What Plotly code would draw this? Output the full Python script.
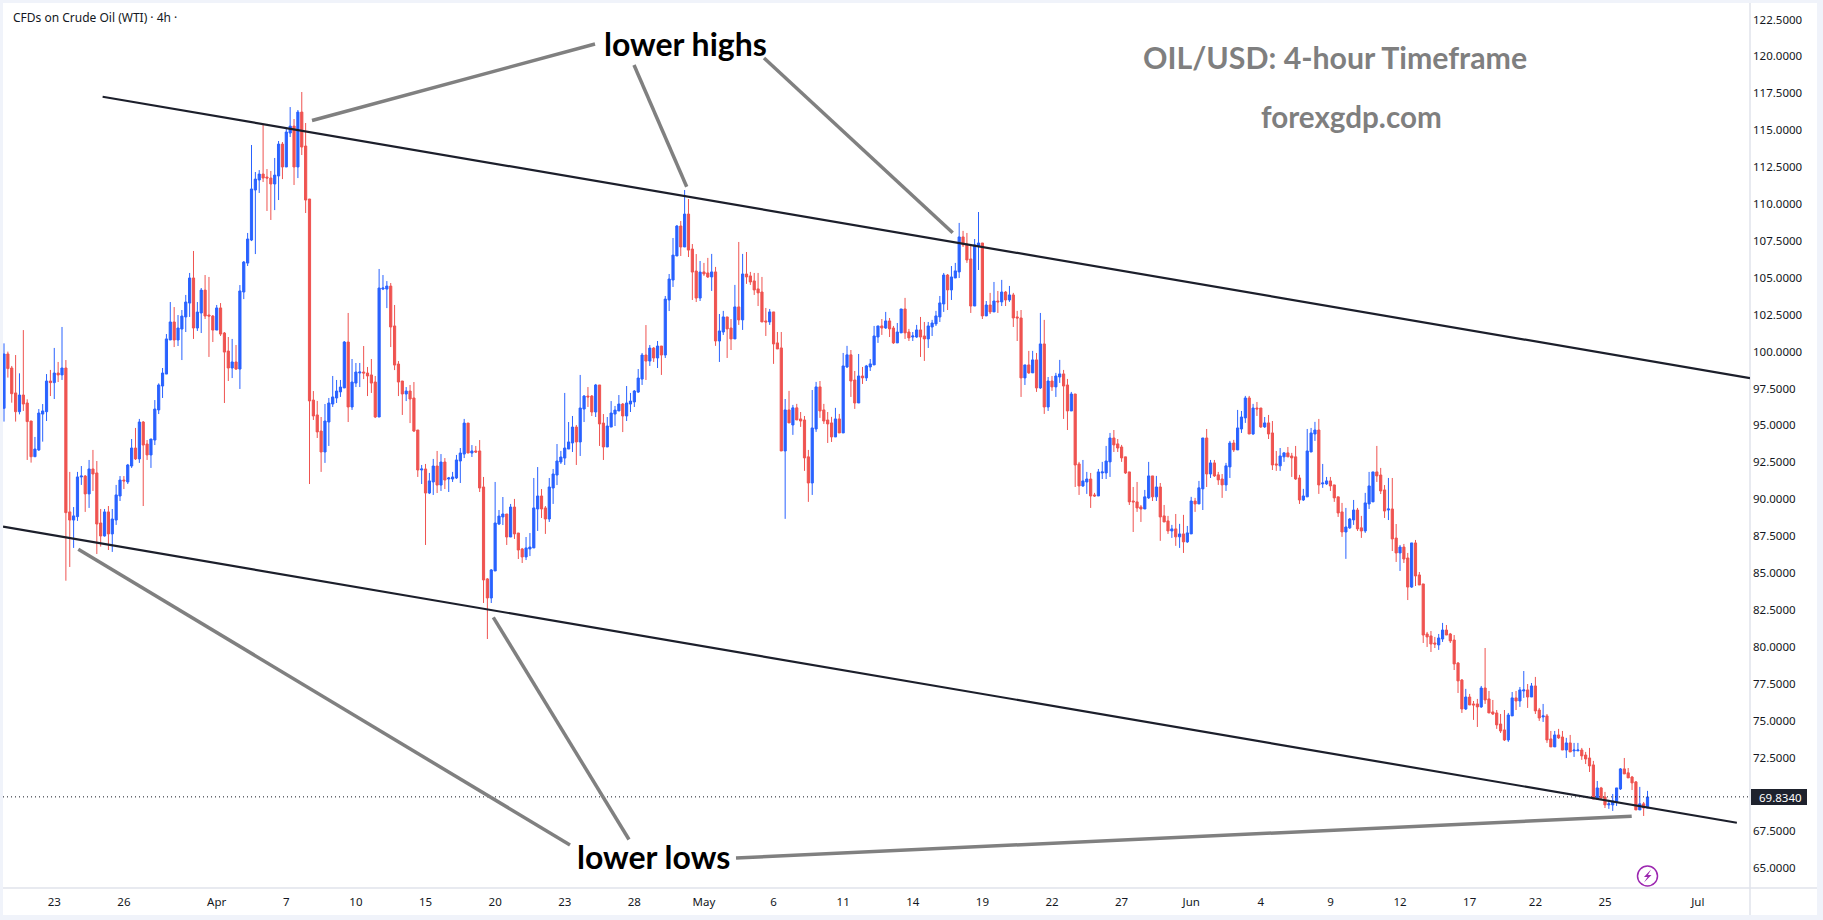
import plotly.graph_objects as go

# 4-hour WTI crude candles, oldest first
opens = [
96.16,99.84,98.89,97.20,95.93,97.06,96.52,95.30,92.88,93.34,
95.77,95.93,98.01,97.90,98.55,98.42,98.89,89.14,88.59,88.82,
91.51,91.57,90.36,92.05,91.78,88.39,87.51,89.14,87.65,88.59,
90.22,91.30,91.17,92.25,93.47,92.73,95.23,93.74,93.00,94.01,
96.05,97.67,98.48,100.79,102.01,100.79,101.53,102.35,103.29,104.99,
101.60,102.62,104.17,102.48,102.41,101.46,102.96,101.26,100.04,98.89,
99.30,98.82,104.04,106.00,107.56,110.95,111.63,112.03,111.83,111.76,
111.36,111.90,114.06,112.51,114.81,115.28,112.51,116.23,113.93,110.34,
96.72,95.71,94.62,93.20,95.23,96.45,96.86,97.27,97.54,100.65,
96.25,97.87,98.55,98.62,98.55,98.42,97.94,95.57,104.24,104.24,
104.44,101.74,99.16,98.01,97.13,97.33,96.86,94.69,91.98,92.05,
90.42,91.17,92.25,90.96,92.52,91.37,91.37,91.44,92.59,93.06,
95.16,93.13,93.27,93.27,90.83,84.60,83.31,85.14,88.32,88.80,
89.00,87.44,89.47,87.71,86.63,86.09,86.63,86.70,89.34,90.22,
89.41,88.66,90.76,91.64,92.52,92.79,93.40,93.81,94.89,93.88,
96.11,96.99,96.99,95.91,97.74,95.16,93.54,94.89,95.77,95.98,
96.45,95.64,96.45,96.59,97.26,98.14,99.77,99.36,100.24,99.57,
100.38,99.77,103.50,104.85,106.48,108.51,107.09,109.32,106.95,105.46,
103.63,105.40,105.33,105.06,105.40,100.72,101.33,102.35,101.60,100.86,
103.03,102.15,105.26,105.13,104.79,104.25,104.04,102.08,102.01,102.69,
100.59,100.25,93.27,96.05,95.03,96.19,95.44,95.37,92.87,91.10,
94.76,97.61,96.05,95.37,95.17,94.22,95.44,94.49,98.96,99.78,
98.08,96.52,98.35,98.22,98.96,99.10,100.99,101.74,101.60,102.08,
101.60,100.59,101.27,102.89,101.33,100.99,100.99,101.47,101.06,100.86,
101.67,101.88,102.35,103.23,105.19,104.18,104.99,105.40,107.77,107.29,
106.28,103.09,107.16,107.36,102.42,103.16,102.69,103.43,103.37,104.04,
103.50,103.84,102.35,102.28,98.22,99.10,98.56,99.44,97.54,100.52,
96.25,98.01,97.61,98.28,98.49,97.74,95.98,97.13,92.39,90.90,
91.17,91.37,90.29,90.22,91.78,91.78,92.53,94.15,93.75,93.54,
92.87,91.85,89.88,89.82,89.48,89.34,90.09,91.58,90.16,90.83,
88.87,88.53,87.85,87.99,87.45,87.65,87.11,87.65,89.88,89.68,
90.70,94.15,91.71,92.46,91.65,91.37,90.97,92.19,93.81,93.34,
94.76,95.51,96.86,94.42,96.18,96.18,94.90,95.17,94.49,92.39,
92.26,92.87,93.14,92.93,92.87,91.44,89.95,90.16,93.20,94.42,
94.69,91.04,91.04,91.24,90.97,90.16,89.14,87.78,88.06,88.60,
89.27,88.06,87.85,89.68,89.82,91.85,91.64,90.63,89.27,89.34,
87.37,86.36,86.76,86.02,84.05,87.04,84.87,84.26,80.87,80.74,
80.26,80.13,80.53,81.14,80.87,80.46,78.90,77.75,75.79,76.60,
76.13,76.13,75.93,77.21,76.47,75.59,75.52,74.77,74.37,73.69,
75.32,76.54,76.33,77.01,77.08,76.60,77.35,75.72,75.25,75.32,
73.76,73.22,74.03,73.89,73.01,73.49,72.95,72.95,73.01,72.67,
72.47,72.00,69.69,70.44,69.83,69.29,69.29,69.49,70.37,71.73,
71.46,71.18,70.85,68.95,69.36,69.08]
highs = [
100.56,100.00,99.03,99.77,98.53,101.46,96.77,95.30,94.22,96.11,
96.45,98.48,98.76,100.25,99.30,101.67,99.43,91.85,89.47,91.85,
92.25,91.64,92.66,93.34,92.59,89.34,89.34,89.54,89.34,90.97,
91.57,91.57,92.39,94.08,94.83,95.44,95.30,94.01,94.08,96.72,
97.85,98.89,101.19,103.36,103.02,102.48,102.82,103.84,105.33,106.82,
103.36,104.31,105.19,105.06,102.48,103.16,103.29,101.33,100.99,100.86,
100.45,104.51,106.14,108.04,114.00,112.17,112.30,115.42,112.37,112.24,
113.12,114.27,114.20,115.15,116.57,115.76,116.37,117.59,115.49,110.34,
97.33,96.66,95.57,96.45,96.86,98.35,98.08,98.08,100.72,102.62,
99.50,99.23,99.23,100.38,98.96,99.50,98.35,105.60,105.19,104.78,
104.65,103.16,99.36,98.01,97.60,97.74,97.94,94.69,92.32,92.39,
91.78,92.73,93.27,93.06,92.79,91.51,91.85,93.00,93.47,95.44,
95.16,93.67,93.61,94.01,91.51,84.66,85.27,91.17,89.27,90.15,
89.00,89.68,90.02,87.71,86.70,87.44,87.71,91.44,92.18,90.69,
89.54,91.44,92.05,93.74,93.27,97.20,95.23,95.64,95.03,98.42,
97.06,97.60,97.06,97.81,97.74,95.77,95.57,96.65,96.32,97.06,
96.52,97.67,97.20,97.40,98.82,99.91,101.80,100.45,100.31,100.72,
100.38,103.77,105.26,107.70,108.58,108.85,110.95,110.34,107.29,106.61,
106.14,106.01,106.35,106.62,105.74,102.55,102.76,102.35,102.21,104.52,
107.43,106.62,106.75,105.40,105.33,105.33,105.06,102.96,102.89,102.69,
101.33,101.33,96.79,97.34,96.39,96.46,95.91,95.64,93.34,97.40,
97.95,98.01,96.46,95.91,95.58,96.19,95.78,99.91,100.39,100.11,
98.69,99.84,98.96,99.10,99.50,101.74,101.74,102.21,102.69,102.28,
101.74,101.94,102.89,103.64,101.54,101.33,101.81,102.35,102.01,102.01,
102.15,102.76,103.77,105.33,105.26,105.80,106.01,108.72,108.18,108.04,
107.29,107.63,109.46,107.36,103.43,103.98,104.72,104.11,104.86,104.11,
104.45,103.98,102.76,102.82,99.10,100.05,100.05,99.91,102.62,102.15,
98.28,98.35,98.56,99.44,98.76,98.15,97.27,97.13,92.53,92.66,
91.85,91.78,90.43,92.05,92.53,93.61,94.49,94.69,94.08,93.68,
92.87,91.85,90.83,91.17,89.61,90.63,92.53,91.58,91.58,91.10,
89.61,88.87,88.26,89.00,88.33,88.94,88.19,90.16,90.09,91.24,
94.15,94.76,92.66,92.66,91.85,91.71,92.46,93.95,94.02,96.05,
95.98,97.00,97.00,96.46,96.59,96.18,95.57,95.71,95.30,93.27,
93.47,93.20,93.54,93.14,93.61,91.65,90.70,94.76,94.83,95.24,
95.44,92.39,91.51,91.51,90.97,90.16,89.75,89.41,88.73,89.95,
89.41,88.87,90.43,91.85,91.85,93.61,92.12,90.96,91.44,91.44,
88.32,86.90,86.97,86.36,87.04,87.24,85.07,84.26,81.01,81.07,
80.67,80.87,81.62,81.48,80.94,80.80,78.97,77.82,77.15,76.81,
76.33,76.47,77.35,79.92,77.01,76.40,75.72,75.45,75.72,75.52,
76.94,77.01,77.28,78.36,77.48,77.55,77.96,75.86,76.13,75.45,
74.30,74.30,74.44,74.30,73.83,74.03,73.49,73.49,73.15,72.88,
73.15,72.27,70.91,70.51,70.17,69.63,70.03,70.44,71.79,72.47,
71.79,71.25,70.91,70.51,69.49,70.24]
lows = [
95.26,98.24,96.54,95.26,95.75,95.98,92.66,92.48,92.88,93.27,
93.90,95.30,96.99,96.79,97.94,98.08,84.48,85.41,86.70,88.53,
90.97,89.14,89.41,90.56,86.29,86.79,87.47,86.56,86.43,88.26,
89.88,90.69,91.03,92.12,92.66,92.46,89.54,92.66,92.12,93.67,
95.77,96.86,98.48,100.79,100.31,100.38,99.43,101.33,102.35,100.86,
101.40,101.26,102.21,99.64,100.65,101.46,101.06,96.52,98.01,98.21,
98.76,97.47,103.56,105.80,107.49,106.61,110.75,111.49,109.53,108.92,
109.59,110.27,111.69,112.51,114.54,111.29,111.76,113.32,109.39,91.03,
95.37,94.15,91.85,92.46,93.61,96.25,96.52,96.93,97.54,95.23,
96.05,97.60,97.60,98.14,96.99,97.20,95.50,95.57,104.17,102.95,
100.31,98.75,96.99,95.71,96.65,95.16,94.55,91.51,91.03,86.90,
90.35,90.29,90.42,90.56,90.69,90.49,91.17,91.37,91.10,92.79,
93.13,92.86,93.13,90.49,82.97,80.53,82.97,85.14,88.25,88.25,
86.90,87.44,87.31,85.95,85.68,85.88,86.15,86.70,87.85,88.73,
87.65,88.46,89.68,90.96,92.39,92.32,93.40,93.20,92.32,92.93,
95.23,96.25,95.64,95.57,93.61,92.66,93.54,94.89,94.96,95.98,
94.55,95.30,95.91,96.25,97.20,97.74,98.08,99.03,99.30,98.89,
98.42,99.57,102.75,104.38,106.48,106.48,107.09,106.41,103.50,103.36,
103.43,105.13,104.99,104.11,100.39,99.30,101.13,99.57,100.11,100.86,
101.81,101.47,104.59,104.52,103.84,103.09,102.01,101.06,101.81,99.17,
100.18,93.27,88.67,95.17,94.36,95.37,94.90,91.92,89.82,90.29,
94.56,95.51,95.10,93.81,93.88,94.22,94.49,94.49,98.89,96.93,
96.12,96.52,97.81,98.01,98.69,99.10,100.59,101.13,101.54,100.99,
100.52,100.59,101.27,100.86,100.72,100.72,100.93,99.64,99.37,100.25,
101.06,101.74,102.01,102.69,102.82,103.50,104.99,104.99,107.09,106.01,
102.62,103.09,105.53,102.21,102.42,102.55,102.69,102.62,103.09,103.09,
103.37,101.67,100.72,96.93,97.74,98.49,98.56,97.27,97.47,95.78,
95.98,97.34,96.93,97.88,95.44,94.69,95.98,90.83,90.29,90.83,
90.36,89.41,90.16,90.22,91.37,91.37,91.51,93.20,93.20,92.53,
91.71,89.61,87.78,89.14,88.46,89.34,90.02,89.88,89.88,87.18,
88.46,87.65,87.38,86.84,86.70,86.36,87.04,87.65,89.14,89.68,
89.27,90.83,91.44,91.51,90.97,90.09,90.56,91.44,93.20,93.34,
94.49,95.17,94.42,94.36,95.64,94.83,94.83,94.08,91.98,91.92,
91.92,92.53,92.87,91.51,91.31,89.68,89.88,90.16,93.20,93.95,
90.36,90.77,90.97,90.56,89.82,88.80,87.45,85.96,87.99,88.26,
87.85,87.38,87.72,89.34,89.82,91.17,90.35,88.73,88.59,86.49,
85.75,85.14,85.68,83.17,83.99,84.12,84.19,80.26,79.99,79.65,
79.92,79.79,80.33,80.80,80.26,78.43,76.87,75.52,75.72,76.06,
75.05,74.57,75.86,76.13,75.52,75.38,74.44,74.16,73.62,73.56,
75.32,75.72,75.93,76.54,75.86,76.60,75.45,74.98,74.91,73.49,
73.22,73.22,73.76,73.01,72.47,72.88,72.54,72.95,72.34,72.06,
71.52,69.69,69.63,69.63,69.08,69.02,68.88,69.22,70.30,71.39,
71.12,70.30,68.95,68.95,68.54,69.08]
closes = [
99.84,98.85,97.15,95.93,97.06,96.45,95.26,92.88,93.40,95.84,
95.98,98.01,97.90,98.55,98.42,98.89,89.09,88.59,88.87,91.51,
91.57,90.36,92.05,91.71,88.32,87.51,89.14,87.65,88.66,90.29,
91.30,91.24,92.32,93.47,92.73,95.23,93.67,93.00,94.08,96.11,
97.74,98.55,100.86,102.01,100.79,101.60,102.41,103.36,104.99,101.60,
102.68,104.17,102.41,102.41,101.46,102.96,101.19,99.97,98.89,99.30,
98.82,104.11,106.07,107.63,111.02,111.69,112.03,111.76,111.76,111.36,
111.96,114.06,112.51,114.88,115.28,112.51,116.23,113.86,110.27,96.66,
95.64,94.56,93.20,95.30,96.52,96.93,97.33,97.60,100.65,96.25,
97.94,98.62,98.62,98.55,98.35,97.87,95.57,104.31,104.31,104.44,
101.67,99.09,97.94,97.13,97.33,96.79,94.62,91.98,92.05,90.42,
91.24,92.25,90.96,92.52,91.30,91.44,91.51,92.66,93.13,95.16,
93.13,93.27,93.20,90.76,84.53,83.31,85.21,88.39,88.86,89.00,
87.44,89.47,87.65,86.56,86.09,86.70,86.76,89.41,90.22,89.34,
88.66,90.83,91.71,92.59,92.86,93.47,93.88,94.89,93.88,96.18,
96.99,96.93,95.91,97.74,95.10,93.54,94.96,95.84,96.04,96.45,
95.64,96.52,96.65,97.33,98.21,99.77,99.36,100.24,99.57,100.38,
99.77,103.56,104.92,106.54,108.51,107.09,109.32,106.88,105.39,103.63,
105.39,105.26,105.06,105.40,100.72,101.40,102.35,101.54,100.86,103.03,
102.15,105.26,105.06,104.72,104.18,103.98,102.01,102.01,102.69,100.52,
100.18,93.27,96.05,95.17,96.19,95.37,95.30,92.80,91.10,94.83,
97.61,95.98,95.30,95.10,94.22,95.44,94.49,99.03,99.78,98.01,
96.52,98.35,98.22,99.03,99.17,101.06,101.74,101.60,102.08,101.54,
100.59,101.33,102.89,101.27,100.93,101.06,101.47,100.99,100.86,101.74,
101.94,102.42,103.30,105.19,104.18,105.06,105.47,107.77,107.23,106.21,
103.09,107.23,107.36,102.42,103.16,102.69,103.43,103.37,104.04,103.50,
103.84,102.28,102.28,98.22,99.10,98.56,99.44,97.54,100.52,96.25,
98.01,97.61,98.35,98.49,97.67,95.98,97.13,92.32,90.90,91.24,
91.37,90.22,90.22,91.85,91.85,92.59,94.15,93.68,93.47,92.80,
91.78,89.82,89.82,89.41,89.34,90.16,91.58,90.16,90.83,88.80,
88.46,87.85,87.99,87.45,87.65,87.11,87.72,89.88,89.68,90.77,
94.15,91.71,92.46,91.58,91.31,90.97,92.26,93.81,93.34,94.83,
95.57,96.86,94.42,96.18,96.12,94.90,95.17,94.42,92.32,92.32,
92.93,93.14,92.87,92.80,91.37,89.95,90.22,93.27,94.49,94.69,
90.97,91.10,91.24,90.90,90.09,89.07,87.78,88.12,88.66,89.27,
87.99,87.85,89.75,90.90,91.85,91.58,90.56,89.20,89.34,87.31,
86.36,86.76,85.95,84.05,87.04,84.80,84.19,80.80,80.67,80.19,
80.19,80.60,81.14,80.80,80.40,78.84,77.69,75.79,76.60,76.06,
76.06,75.93,77.21,76.40,75.52,75.45,74.71,74.30,73.69,75.38,
76.54,76.33,77.08,77.08,76.60,77.35,75.66,75.18,75.32,73.69,
73.22,74.03,73.83,73.01,73.49,72.88,73.01,73.01,72.61,72.40,
71.93,69.69,70.44,69.76,69.29,69.36,69.56,70.44,71.73,71.39,
71.12,70.78,68.95,69.36,69.08,69.83]

# Date labels along the time axis, at their bar positions
date_bars = [13,31,55,73,91,109,127,145,163,181,199,217,235,253,271,289,307,325,343,361,379,396,414,438]
date_labels = ["23","26","Apr","7","10","15","20","23","28","May","6","11","14","19","22","27","Jun","4","9","12","17","22","25","Jul"]

# The 70 level gives way to the last-price tag
price_ticks = [65.0, 67.5, 72.5, 75.0, 77.5, 80.0, 82.5, 85.0, 87.5, 90.0, 92.5, 95.0,
               97.5, 100.0, 102.5, 105.0, 107.5, 110.0, 112.5, 115.0, 117.5, 120.0, 122.5]
last_price = 69.834

# Channel boundaries drawn on the chart: (bar, price) end points
upper_channel = [(25.5, 117.27), (451.5, 98.21)]
lower_channel = [(-0.26, 88.14), (448.1, 68.08)]

n = min(len(opens), len(highs), len(lows), len(closes))
bars = list(range(n))

PLOT_L, PLOT_T, PLOT_R, PLOT_B = 3, 3, 1750, 888
FRAME_R, FRAME_B = 1817, 915
GREY = "#7f7f7f"
FONT = "Noto Sans"
HEAD = "Lato"


def fx(px):
    return (px - PLOT_L) / (PLOT_R - PLOT_L)


def fy(py):
    return (PLOT_B - py) / (PLOT_B - PLOT_T)


fig = go.Figure(go.Candlestick(
    x=bars, open=opens[:n], high=highs[:n], low=lows[:n], close=closes[:n],
    increasing=dict(line=dict(color="#2962ff", width=1), fillcolor="#2962ff"),
    decreasing=dict(line=dict(color="#ef5350", width=1), fillcolor="#ef5350"),
    whiskerwidth=0, showlegend=False, hoverinfo="skip",
))

shapes = []

# White chart panel inside the pale frame
shapes.append(dict(type="rect", xref="paper", yref="paper", layer="below",
                   x0=fx(PLOT_L), x1=fx(FRAME_R), y0=fy(PLOT_T), y1=fy(FRAME_B),
                   fillcolor="#ffffff", line_width=0))
for a, b, c, d in [(PLOT_R, PLOT_T, PLOT_R, FRAME_B), (PLOT_L, PLOT_B, FRAME_R, PLOT_B)]:
    shapes.append(dict(type="line", xref="paper", yref="paper", x0=fx(a), y0=fy(b), x1=fx(c), y1=fy(d),
                       line=dict(color="#e0e3eb", width=1.5)))

# Last price level
shapes.append(dict(type="line", xref="paper", yref="y", x0=0, x1=1, y0=last_price, y1=last_price,
                   line=dict(color="#131722", width=1, dash="1px,3px")))

# Channel
for (b0, p0), (b1, p1) in (upper_channel, lower_channel):
    shapes.append(dict(type="line", xref="x", yref="y", x0=b0, y0=p0, x1=b1, y1=p1,
                       line=dict(color="#1c1f2b", width=2.2)))

# Callout strokes
callouts = [
    (312, 120.5, 595, 44), (634, 65, 686.7, 186.7), (764, 58, 952.7, 232.7),
    (78.3, 549.3, 570, 845), (493.3, 617.3, 629, 839.5), (736, 858, 1631.7, 816.3),
]
for a, b, c, d in callouts:
    shapes.append(dict(type="line", xref="paper", yref="paper", x0=fx(a), y0=fy(b), x1=fx(c), y1=fy(d),
                       line=dict(color="#808080", width=3.5)))

# Price tag box and alert badge
shapes.append(dict(type="rect", xref="paper", yref="paper", x0=fx(1751), x1=fx(1807), y0=fy(789), y1=fy(805),
                   fillcolor="#1e222d", line_width=0))
shapes.append(dict(type="circle", xref="paper", yref="paper", x0=fx(1637.5), x1=fx(1657.5), y0=fy(866), y1=fy(886),
                   line=dict(color="#9c27b0", width=1.5), fillcolor="rgba(0,0,0,0)"))
bolt = [(1651, 869.5), (1644, 877), (1647.5, 877), (1644, 882.5), (1651.5, 875), (1648, 875)]
shapes.append(dict(type="path", xref="paper", yref="paper",
                   path="M " + " L ".join(f"{fx(a):.5f},{fy(b):.5f}" for a, b in bolt) + " Z",
                   fillcolor="#9c27b0", line_width=0))


def note(text, px, py, size, color, family=HEAD, bold=True, xanchor="center"):
    return dict(text=f"<b>{text}</b>" if bold else text, xref="paper", yref="paper",
                x=fx(px), y=fy(py), xanchor=xanchor, yanchor="middle", showarrow=False,
                font=dict(family=family, size=size, color=color))


annotations = [
    note("lower highs", 685, 44, 32, "#000000"),
    note("lower lows", 653, 856, 32, "#000000"),
    note("OIL/USD: 4-hour Timeframe", 1335, 57, 30.3, GREY),
    note("forexgdp.com", 1351, 117, 29.6, GREY),
    note("CFDs on Crude Oil (WTI) · 4h ·", 11, 18, 12, "#131722", FONT, False, "left"),
    note("69.8340", 1780, 797, 11.5, "#ffffff", FONT, False),
]

fig.update_layout(
    width=1823, height=920,
    margin=dict(l=PLOT_L, t=PLOT_T, r=1823 - PLOT_R, b=920 - PLOT_B),
    paper_bgcolor="#f0f3fa", plot_bgcolor="rgba(0,0,0,0)",
    shapes=shapes, annotations=annotations, boxgap=0.25, boxgroupgap=0.25,
    font=dict(family=FONT, size=11.5, color="#131722"),
    xaxis=dict(range=[-0.26, 451.5], rangeslider=dict(visible=False), showgrid=False, zeroline=False,
               tickmode="array", tickvals=date_bars, ticktext=date_labels, ticks="", ticklabelstandoff=5),
    yaxis=dict(side="right", range=[63.66, 123.62], showgrid=False, zeroline=False,
               tickmode="array", tickvals=price_ticks, ticktext=[f"{p:.4f}" for p in price_ticks],
               ticks="", ticklabelstandoff=2),
)

fig.write_html("out.html", config=dict(displayModeBar=False))
